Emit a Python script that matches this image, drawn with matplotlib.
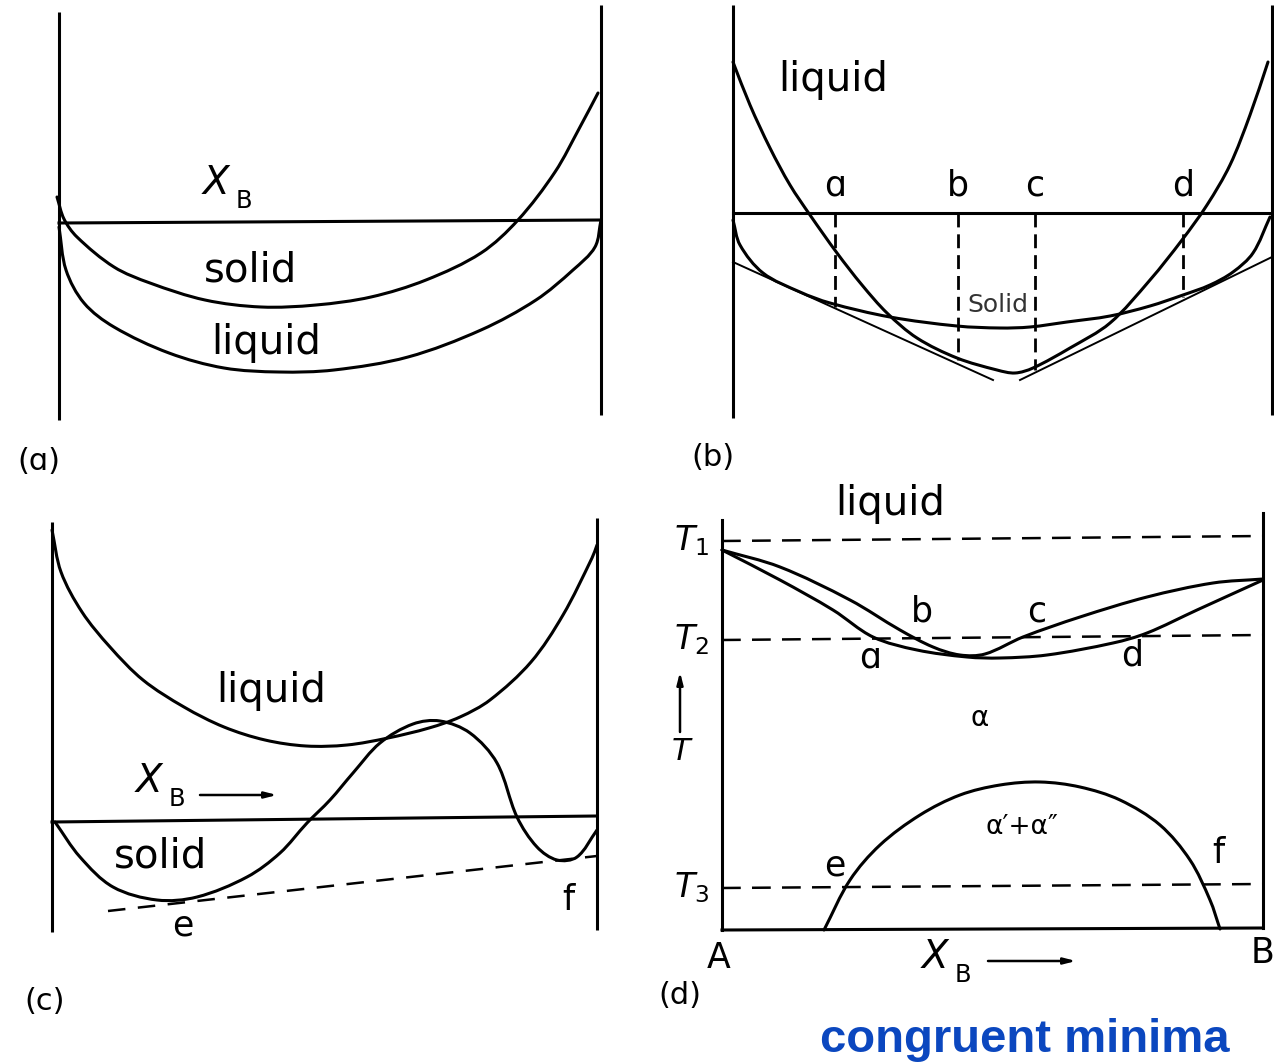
import math

import matplotlib
matplotlib.use("Agg")
import matplotlib.pyplot as plt
from matplotlib.path import Path
from matplotlib.patches import PathPatch

W, H = 1274, 1064

# ---- panel (a): solid and liquid free-energy curves ----
a_wall_x = [59, 601]
a_wall_top = [12, 5]
a_wall_bot = [420, 415]
a_base_x = [59, 601]
a_base_y = [223, 220]
a_solid_x = [57, 64, 77, 114, 150, 205, 261, 316, 371, 426, 481, 518, 555, 580, 598]
a_solid_y = [197, 219, 237, 267, 283, 300, 307, 305, 297, 280, 253, 220, 172, 127, 93]
a_liquid_x = [59, 66, 84, 114, 169, 224, 279, 334, 408, 481, 536, 573, 595, 601]
a_liquid_y = [227, 270, 303, 327, 353, 368, 372, 370, 357, 330, 300, 270, 247, 220]

# ---- panel (b): common tangents a-b and c-d ----
b_wall_x = [733, 1272]
b_wall_top = [5, 5]
b_wall_bot = [418, 415]
b_base_y = 213
b_liquid_x = [733, 750, 770, 790, 810, 837, 862, 887, 917, 957, 997, 1015, 1033,
              1070, 1110, 1150, 1182, 1207, 1230, 1250, 1268]
b_liquid_y = [62, 105, 148, 185, 215, 253, 285, 313, 338, 358, 370, 373, 368,
              348, 323, 280, 240, 205, 165, 115, 62]
b_solid_x = [733, 740, 763, 800, 830, 890, 957, 1000, 1030, 1067, 1110, 1150,
             1183, 1210, 1233, 1253, 1270]
b_solid_y = [220, 245, 273, 292, 303, 317, 326, 328, 327, 322, 316, 306,
             295, 285, 272, 253, 217]
b_tan_left_x = [733, 993]
b_tan_left_y = [262, 380]
b_tan_right_x = [1020, 1272]
b_tan_right_y = [380, 257]
b_points = ["a", "b", "c", "d"]
b_points_x = [835, 958, 1035, 1183]
b_points_y = [307, 360, 370, 297]

# ---- panel (c): solid curve with two minima ----
c_wall_x = [52, 597]
c_wall_top = [522, 518]
c_wall_bot = [932, 930]
c_base_x = [52, 597]
c_base_y = [822, 816]
c_liquid_x = [52, 61, 82, 110, 143, 184, 224, 265, 306, 347, 388, 429, 460,
              490, 531, 563, 592, 597]
c_liquid_y = [530, 572, 612, 647, 680, 707, 727, 740, 746, 745, 738, 728, 717,
              700, 662, 615, 558, 545]
c_solid_x = [55, 80, 113, 157, 197, 247, 280, 307, 330, 353, 380, 413, 440,
             470, 497, 517, 537, 557, 577, 597]
c_solid_y = [822, 857, 887, 900, 897, 877, 853, 823, 800, 773, 743, 724, 721,
             733, 763, 817, 847, 860, 857, 830]
c_tan_x = [108, 597]
c_tan_y = [911, 856]

# ---- panel (d): phase diagram with congruent minimum ----
d_wall_x = [722, 1263]
d_wall_top = [520, 513]
d_bottom_y = [930, 928]
d_iso_names = ["1", "2", "3"]
d_iso_left = [541, 640, 888]
d_iso_right = [536, 635, 884]
d_liquidus_x = [722, 780, 850, 900, 933, 960, 985, 1023, 1080, 1147, 1213, 1263]
d_liquidus_y = [550, 567, 600, 630, 647, 655, 654, 637, 617, 597, 583, 579]
d_solidus_x = [722, 780, 833, 873, 917, 967, 1000, 1047, 1113, 1147, 1197, 1263]
d_solidus_y = [550, 580, 610, 637, 650, 657, 658, 655, 643, 633, 610, 580]
d_gap_x = [824, 850, 880, 920, 960, 1000, 1040, 1080, 1120, 1160, 1190, 1210, 1220]
d_gap_y = [930, 880, 845, 815, 795, 785, 782, 787, 800, 825, 860, 900, 929]

LW = 2.2
K = "black"

fig = plt.figure(figsize=(W / 100, H / 100), dpi=100)
ax = fig.add_axes([0, 0, 1, 1])
ax.set_xlim(0, W)
ax.set_ylim(H, 0)
ax.axis("off")


def curve(xs, ys, lw=LW):
    # smooth cubic path through the points, tangents scaled by chord length
    pts = list(zip(xs, ys))
    n = len(pts)
    d = [math.dist(pts[i], pts[i + 1]) for i in range(n - 1)]
    tang = []
    for k in range(n):
        i0, i1 = max(k - 1, 0), min(k + 1, n - 1)
        span = sum(d[i0:i1])
        tang.append(((pts[i1][0] - pts[i0][0]) / span,
                     (pts[i1][1] - pts[i0][1]) / span))
    verts, codes = [pts[0]], [Path.MOVETO]
    for i in range(n - 1):
        h = d[i] / 3
        p1, p2 = pts[i], pts[i + 1]
        c1 = (p1[0] + tang[i][0] * h, p1[1] + tang[i][1] * h)
        c2 = (p2[0] - tang[i + 1][0] * h, p2[1] - tang[i + 1][1] * h)
        verts += [c1, c2, p2]
        codes += [Path.CURVE4] * 3
    ax.add_patch(PathPatch(Path(verts, codes), fill=False, lw=lw,
                           edgecolor=K, capstyle="round", joinstyle="round"))


def walls(xs, tops, bots, lw=LW):
    for x, t, b in zip(xs, tops, bots):
        ax.plot([x, x], [t, b], color=K, lw=lw, solid_capstyle="butt")


def label(x, y, s, size=26, **kw):
    kw.setdefault("ha", "center")
    ax.text(x, y, s, fontsize=size, va="center", family="DejaVu Sans", **kw)


def xb(x, y, size=28):
    label(x, y, "X", size=size, style="italic")
    label(x + 28, y + 18, "B", size=size * 0.62)


def arrow(x0, y0, x1, y1):
    ax.annotate("", xy=(x1, y1), xytext=(x0, y0),
                arrowprops=dict(arrowstyle="-|>,head_length=0.7,head_width=0.18",
                                color=K, lw=1.8, shrinkA=0, shrinkB=0))


# (a)
walls(a_wall_x, a_wall_top, a_wall_bot)
ax.plot(a_base_x, a_base_y, color=K, lw=LW)
curve(a_solid_x, a_solid_y)
curve(a_liquid_x, a_liquid_y)
xb(216, 183)
label(251, 271, "solid", size=29)
label(266, 343, "liquid", size=29)
label(39, 462, "(ɑ)", size=22)

# (b)
walls(b_wall_x, b_wall_top, b_wall_bot)
ax.plot(b_wall_x, [b_base_y, b_base_y], color=K, lw=LW)
curve(b_liquid_x, b_liquid_y)
curve(b_solid_x, b_solid_y)
ax.plot(b_tan_left_x, b_tan_left_y, color=K, lw=1.4)
ax.plot(b_tan_right_x, b_tan_right_y, color=K, lw=1.4)
for name, x, y in zip(b_points, b_points_x, b_points_y):
    ax.plot([x, x], [b_base_y, y], color=K, lw=2.0, dashes=(5, 2.5))
    label(x, 186, "ɑ" if name == "a" else name, size=25)
label(998, 305, "Solid", size=18, color="#333333",
      bbox=dict(facecolor="white", edgecolor="none", pad=0.5))
label(833, 80, "liquid", size=29)
label(713, 458, "(b)", size=22)

# (c)
walls(c_wall_x, c_wall_top, c_wall_bot)
ax.plot(c_base_x, c_base_y, color=K, lw=LW)
curve(c_liquid_x, c_liquid_y)
curve(c_solid_x, c_solid_y)
ax.plot(c_tan_x, c_tan_y, color=K, lw=1.8, dashes=(7, 5))
label(271, 691, "liquid", size=29)
xb(149, 781)
arrow(200, 795, 277, 795)
label(160, 857, "solid", size=29)
label(183, 926, "e", size=25)
label(568, 900, "f", size=25)
label(45, 1002, "(c)", size=22)

# (d)
ax.plot([d_wall_x[0], d_wall_x[0]], [d_wall_top[0], d_bottom_y[0]], color=K, lw=LW)
ax.plot([d_wall_x[1], d_wall_x[1]], [d_wall_top[1], d_bottom_y[1]], color=K, lw=LW)
ax.plot(d_wall_x, d_bottom_y, color=K, lw=LW)
for yl, yr in zip(d_iso_left, d_iso_right):
    ax.plot(d_wall_x, [yl, yr], color=K, lw=1.8, dashes=(7.5, 4.5))
curve(d_liquidus_x, d_liquidus_y)
curve(d_solidus_x, d_solidus_y)
curve(d_gap_x, d_gap_y)
for name, y in zip(d_iso_names, d_iso_left):
    label(692, y, "$T_%s$" % name, size=24)
label(890, 504, "liquid", size=29)
label(922, 612, "b", size=25)
label(870, 657, "ɑ", size=25)
label(1037, 612, "c", size=25)
label(1132, 655, "d", size=25)
arrow(680, 732, 680, 672)
label(681, 752, "T", size=22, style="italic")
label(980, 718, "α", size=20)
label(1022, 827, "α′+α″", size=19)
label(835, 866, "e", size=25)
label(1218, 853, "f", size=25)
label(719, 958, "A", size=25)
label(1274, 953, "B", size=25, ha="right")
xb(935, 957)
arrow(988, 961, 1076, 961)
label(680, 996, "(d)", size=22)

ax.text(1025, 1040, "congruent minima", fontsize=34, fontweight="bold",
        family="Liberation Sans", color="#0b47bf", ha="center", va="center")

fig.savefig("out.png", dpi=100)
